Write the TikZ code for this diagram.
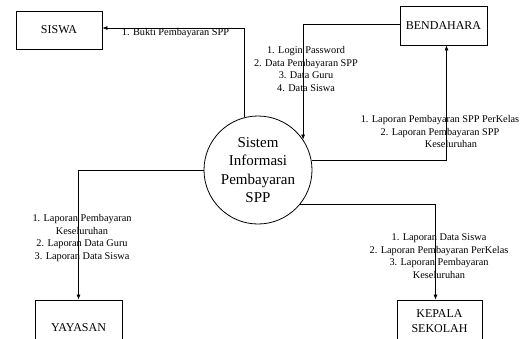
\documentclass[tikz,border=0pt]{standalone}
\usepackage{fontspec}
\setmainfont{Liberation Serif}
\usetikzlibrary{arrows.meta}
\begin{document}
\begin{tikzpicture}[x=1pt,y=-1pt,
  ent/.style={draw,line width=0.8pt,rectangle,inner sep=0pt,align=center,font=\fontsize{12}{14.5}\selectfont},
  proc/.style={draw,line width=0.8pt,circle,inner sep=0pt,minimum size=108pt,align=center,font=\fontsize{15}{18.5}\selectfont},
  flow/.style={line width=0.7pt,-{Latex[length=5pt,width=4pt]}},
  lbl/.style={align=center,inner sep=0pt,font=\fontsize{10.3}{12.6}\selectfont}]
\useasboundingbox (0,0) rectangle (527,338);
\clip (0,0) rectangle (527,338);
\fill[white] (0,0) rectangle (527,338);
\node[proc] (p) at (258,170) {Sistem\\Informasi\\Pembayaran\\SPP};
\node[ent,minimum width=86pt,minimum height=38pt] (siswa) at (59,30) {SISWA};
\node[ent,minimum width=87pt,minimum height=39pt] (bend) at (443.5,25.5) {BENDAHARA};
\node[ent,minimum width=87pt,minimum height=56pt] (yay) at (78.5,328) {YAYASAN};
\node[ent,minimum width=85pt,minimum height=42pt] (kep) at (439.5,321) {KEPALA\\SEKOLAH};
\draw[flow] (p.105) |- ([yshift=2pt]siswa.east);
\draw[flow] ([yshift=1.5pt]bend.west) -| (p.34);
\draw[flow] (p.10) -| ([xshift=3pt]bend.south);
\draw[flow] (p.west) -| (yay.north);
\draw[flow] (p.-39) -| ([xshift=-4pt]kep.north);
\node[lbl] (l1) at (175.5,33) {1. Bukti Pembayaran SPP};
\node[lbl] (l2) at (306,69) {1. Login Password\\2. Data Pembayaran SPP\\3. Data Guru\\4. Data Siswa};
\node[lbl] (l3) at (440,131.5) {1. Laporan Pembayaran SPP PerKelas\\2. Laporan Pembayaran SPP\\\hspace*{22pt}Keseluruhan};
\node[lbl] (l4) at (82,238) {1. Laporan Pembayaran\\Keseluruhan\\2. Laporan Data Guru\\3. Laporan Data Siswa};
\node[lbl] (l5) at (439,256) {1. Laporan Data Siswa\\2. Laporan Pembayaran PerKelas\\3. Laporan Pembayaran\\Keseluruhan};
\end{tikzpicture}
\end{document}
